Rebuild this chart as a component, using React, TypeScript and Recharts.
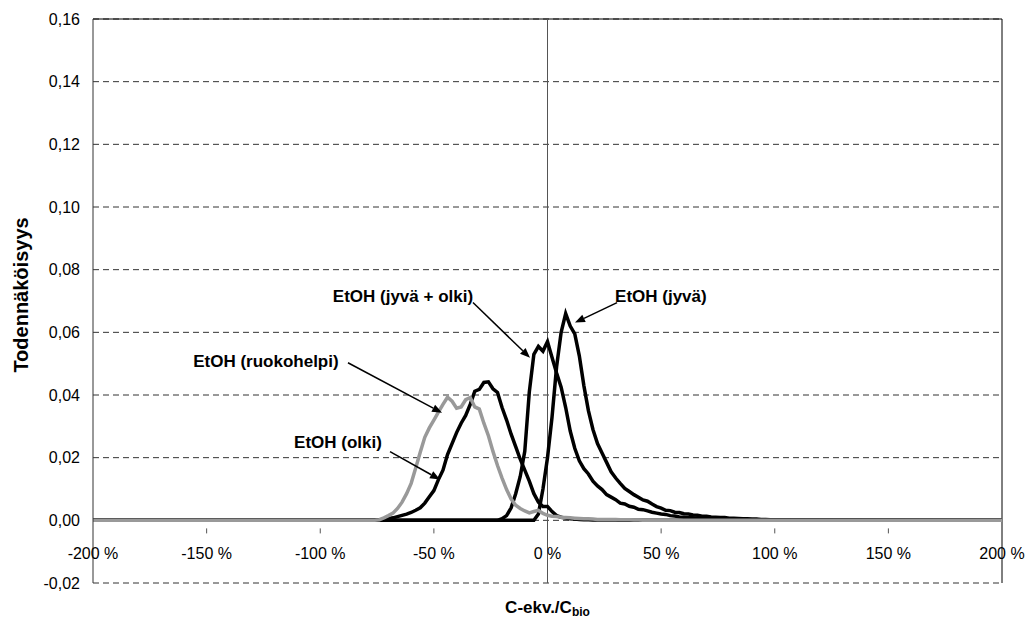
import React from "react";
import {
  LineChart,
  Line,
  XAxis,
  YAxis,
  CartesianGrid,
  ReferenceLine,
  ReferenceDot,
} from "recharts";

// x = C-ekv./C_bio in percent; common grid for all series
const xValues = [
  -200, -76, -74, -72, -70, -68, -66, -64, -62, -60, -58, -56, -54, -52, -50,
  -48, -46, -44, -42, -40, -38, -36, -34, -32, -30, -28, -26, -24, -22, -20,
  -18, -16, -14, -12, -10, -8, -6, -4, -2, 0, 2, 4, 6, 8, 10, 12, 14, 16, 18,
  20, 22, 24, 26, 28, 30, 32, 34, 36, 38, 40, 42, 44, 46, 48, 50, 52, 54, 56,
  58, 60, 62, 64, 66, 68, 70, 72, 74, 76, 78, 80, 82, 84, 86, 88, 90, 92, 94,
  96, 98, 100, 200,
];

// EtOH (olki)
const olki = [
  0, 0, 0, 0.0002, 0.0005, 0.0008, 0.0012, 0.0016, 0.002, 0.0025, 0.0032,
  0.004, 0.0055, 0.0075, 0.0095, 0.013, 0.016, 0.021, 0.0245, 0.028, 0.031,
  0.0335, 0.037, 0.0412, 0.0418, 0.044, 0.0442, 0.042, 0.0408, 0.036, 0.032,
  0.0275, 0.0235, 0.0195, 0.016, 0.0125, 0.0085, 0.0058, 0.0044, 0.0044,
  0.0028, 0.0015, 0.001, 0.0007, 0.0005, 0.0004, 0.0003, 0.0002, 0.0002,
  0.0001, 0.0001, 0.0001, 0.0001, 0.0001, 0.0001, 0, 0, 0, 0, 0, 0, 0, 0, 0,
  0, 0, 0, 0, 0, 0, 0, 0, 0, 0, 0, 0, 0, 0, 0, 0, 0, 0, 0, 0, 0, 0, 0, 0, 0,
  0, 0,
];

// EtOH (ruokohelpi)
const ruokohelpi = [
  0, 0, 0.0002, 0.0008, 0.0015, 0.0023, 0.0038, 0.0058, 0.0085, 0.0118,
  0.0167, 0.0217, 0.0265, 0.0295, 0.032, 0.0345, 0.037, 0.0393, 0.038, 0.0358,
  0.0362, 0.0385, 0.0392, 0.0362, 0.0355, 0.031, 0.027, 0.022, 0.0175, 0.0135,
  0.0098, 0.0068, 0.0048, 0.0038, 0.003, 0.0024, 0.0028, 0.0032, 0.0022,
  0.0016, 0.0013, 0.0012, 0.001, 0.0009, 0.0008, 0.0007, 0.0006, 0.0005,
  0.0005, 0.0004, 0.0003, 0.0003, 0.0003, 0.0003, 0.0003, 0.0002, 0.0002,
  0.0002, 0.0001, 0.0001, 0, 0, 0, 0, 0, 0, 0, 0, 0, 0, 0, 0, 0, 0, 0, 0, 0,
  0, 0, 0, 0, 0, 0, 0, 0, 0, 0, 0, 0, 0, 0,
];

// EtOH (jyvä + olki)
const jyvaOlki = [
  0, 0, 0, 0, 0, 0, 0, 0, 0, 0, 0, 0, 0, 0, 0, 0, 0, 0, 0, 0, 0, 0, 0, 0, 0,
  0, 0, 0, 0, 0.0005, 0.0015, 0.004, 0.0085, 0.014, 0.022, 0.041, 0.053,
  0.0555, 0.054, 0.057, 0.052, 0.047, 0.0425, 0.036, 0.0285, 0.023, 0.019,
  0.0165, 0.0148, 0.0125, 0.011, 0.0098, 0.0082, 0.0074, 0.0066, 0.0055,
  0.0052, 0.0045, 0.0042, 0.0035, 0.0034, 0.003, 0.0026, 0.0023, 0.002,
  0.0019, 0.0015, 0.0014, 0.0011, 0.001, 0.0008, 0.0008, 0.0006, 0.0005,
  0.0005, 0.0004, 0.0003, 0.0003, 0.0002, 0.0002, 0.0001, 0.0001, 0.0001, 0,
  0, 0, 0, 0, 0, 0, 0,
];

// EtOH (jyvä)
const jyva = [
  0, 0, 0, 0, 0, 0, 0, 0, 0, 0, 0, 0, 0, 0, 0, 0, 0, 0, 0, 0, 0, 0, 0, 0, 0,
  0, 0, 0, 0, 0, 0, 0, 0, 0, 0, 0, 0, 0.002, 0.01, 0.02, 0.033, 0.049, 0.06,
  0.066, 0.062, 0.0595, 0.0525, 0.043, 0.035, 0.029, 0.0245, 0.0215, 0.0185,
  0.0155, 0.0135, 0.0118, 0.0102, 0.0092, 0.0082, 0.0074, 0.0065, 0.0061,
  0.0052, 0.0044, 0.0039, 0.0032, 0.0031, 0.0026, 0.0025, 0.0021, 0.002,
  0.0017, 0.0016, 0.0013, 0.0013, 0.0011, 0.001, 0.0009, 0.0009, 0.0007,
  0.0007, 0.0006, 0.0005, 0.0005, 0.0004, 0.0004, 0.0003, 0.0003, 0.0002,
  0.0002, 0,
];

const xTicks = [-200, -150, -100, -50, 0, 50, 100, 150, 200];
const yTicks = [-0.02, 0, 0.02, 0.04, 0.06, 0.08, 0.1, 0.12, 0.14, 0.16];

// annotation texts and arrows, in data coordinates
const labelNames = [
  "EtOH (jyvä + olki)",
  "EtOH (jyvä)",
  "EtOH (ruokohelpi)",
  "EtOH (olki)",
];
const labelPos = [
  [-63.6, 0.0714],
  [49.9, 0.0714],
  [-123.9, 0.0506],
  [-92.2, 0.025],
];
const arrowFrom = [
  [-32.8, 0.0695],
  [30.6, 0.0695],
  [-87.8, 0.0503],
  [-69.3, 0.0219],
];
const arrowTo = [
  [-7.7, 0.0519],
  [12.1, 0.0631],
  [-46.4, 0.0343],
  [-47.3, 0.013],
];

const data = xValues.map((x, i) => ({
  x,
  olki: olki[i],
  ruokohelpi: ruokohelpi[i],
  jyvaOlki: jyvaOlki[i],
  jyva: jyva[i],
}));

const FONT = "'Liberation Sans', Arial, sans-serif";

const fmtY = (v: number) => v.toFixed(2).replace(".", ",");

const XTick = (props: any) => {
  const { x, y, payload } = props;
  const y0 = y - 62.6; // axis crosses at 0,00
  return (
    <g>
      {payload.value !== -200 && payload.value !== 200 && (
        <line x1={x} x2={x} y1={y0} y2={y0 + 5} stroke="#555" strokeWidth={1} />
      )}
      <text
        x={x}
        y={y0 + 31}
        textAnchor="middle"
        fontFamily={FONT}
        fontSize={16}
        fill="#000"
      >
        {`${payload.value} %`}
      </text>
    </g>
  );
};

const Arrow = (props: any) => {
  const { x1, y1, x2, y2 } = props;
  const ang = Math.atan2(y2 - y1, x2 - x1);
  const len = 10;
  const w = 4;
  const bx = x2 - len * Math.cos(ang);
  const by = y2 - len * Math.sin(ang);
  const px = -Math.sin(ang) * w;
  const py = Math.cos(ang) * w;
  return (
    <g>
      <line x1={x1} y1={y1} x2={bx} y2={by} stroke="#000" strokeWidth={1.5} />
      <polygon
        points={`${x2},${y2} ${bx + px},${by + py} ${bx - px},${by - py}`}
        fill="#000"
      />
    </g>
  );
};

export default function App() {
  return (
    <div style={{ position: "absolute", left: 0, top: 0, width: 1027, height: 620, background: "#fff" }}>
      <LineChart
        width={1027}
        height={620}
        data={data}
        margin={{ top: 19, right: 25, left: 0, bottom: 0 }}
      >
        <CartesianGrid
          horizontal
          vertical={false}
          stroke="#333"
          strokeDasharray="6 4"
        />
        <XAxis
          dataKey="x"
          type="number"
          domain={[-200, 200]}
          ticks={xTicks}
          axisLine={false}
          tickLine={false}
          height={37}
          interval={0}
          tick={<XTick />}
          label={{
            position: "insideBottom",
            content: (p: any) => {
              const vb = p.viewBox;
              return (
                <text
                  x={vb.x + vb.width / 2}
                  y={vb.y + 30}
                  textAnchor="middle"
                  fontFamily={FONT}
                  fontWeight="bold"
                  fontSize={17}
                  fill="#000"
                >
                  C-ekv./C
                  <tspan fontSize={12} dy={3}>
                    bio
                  </tspan>
                </text>
              );
            },
          }}
        />
        <YAxis
          type="number"
          domain={[-0.02, 0.16]}
          ticks={yTicks}
          width={93}
          interval={0}
          tickFormatter={fmtY}
          tickLine={false}
          tickMargin={13}
          tickSize={0}
          axisLine={{ stroke: "#333", strokeWidth: 1 }}
          tick={{ fontFamily: FONT, fontSize: 16, fill: "#000" }}
          label={{
            position: "insideLeft",
            content: (p: any) => {
              const vb = p.viewBox;
              const cy = vb.y + vb.height / 2 - 6;
              return (
                <text
                  x={28}
                  y={cy}
                  transform={`rotate(-90, 28, ${cy})`}
                  textAnchor="middle"
                  fontFamily={FONT}
                  fontWeight="bold"
                  fontSize={20}
                  fill="#000"
                >
                  Todennäköisyys
                </text>
              );
            },
          }}
        />
        <ReferenceLine y={0.16} stroke="#000" strokeWidth={1} />
        <ReferenceLine x={200} stroke="#000" strokeWidth={1} />
        <ReferenceLine x={0} stroke="#555" strokeWidth={1} />
        <Line
          dataKey="jyva"
          stroke="#000"
          strokeWidth={3.5}
          dot={false}
          isAnimationActive={false}
          type="linear"
        />
        <Line
          dataKey="jyvaOlki"
          stroke="#000"
          strokeWidth={3.5}
          dot={false}
          isAnimationActive={false}
          type="linear"
        />
        <Line
          dataKey="olki"
          stroke="#000"
          strokeWidth={3.5}
          dot={false}
          isAnimationActive={false}
          type="linear"
        />
        <Line
          dataKey="ruokohelpi"
          stroke="#999"
          strokeWidth={3.5}
          dot={false}
          isAnimationActive={false}
          type="linear"
        />
        {labelNames.map((name, i) => (
          <ReferenceLine
            key={`arrow-${i}`}
            segment={[
              { x: arrowFrom[i][0], y: arrowFrom[i][1] },
              { x: arrowTo[i][0], y: arrowTo[i][1] },
            ]}
            shape={<Arrow />}
          />
        ))}
        {labelNames.map((name, i) => (
          <ReferenceDot
            key={`label-${i}`}
            x={labelPos[i][0]}
            y={labelPos[i][1]}
            r={0}
            shape={(p: any) => (
              <text
                x={p.cx}
                y={p.cy}
                textAnchor="middle"
                dominantBaseline="central"
                fontFamily={FONT}
                fontWeight="bold"
                fontSize={17}
                fill="#000"
              >
                {name}
              </text>
            )}
          />
        ))}
      </LineChart>
    </div>
  );
}
